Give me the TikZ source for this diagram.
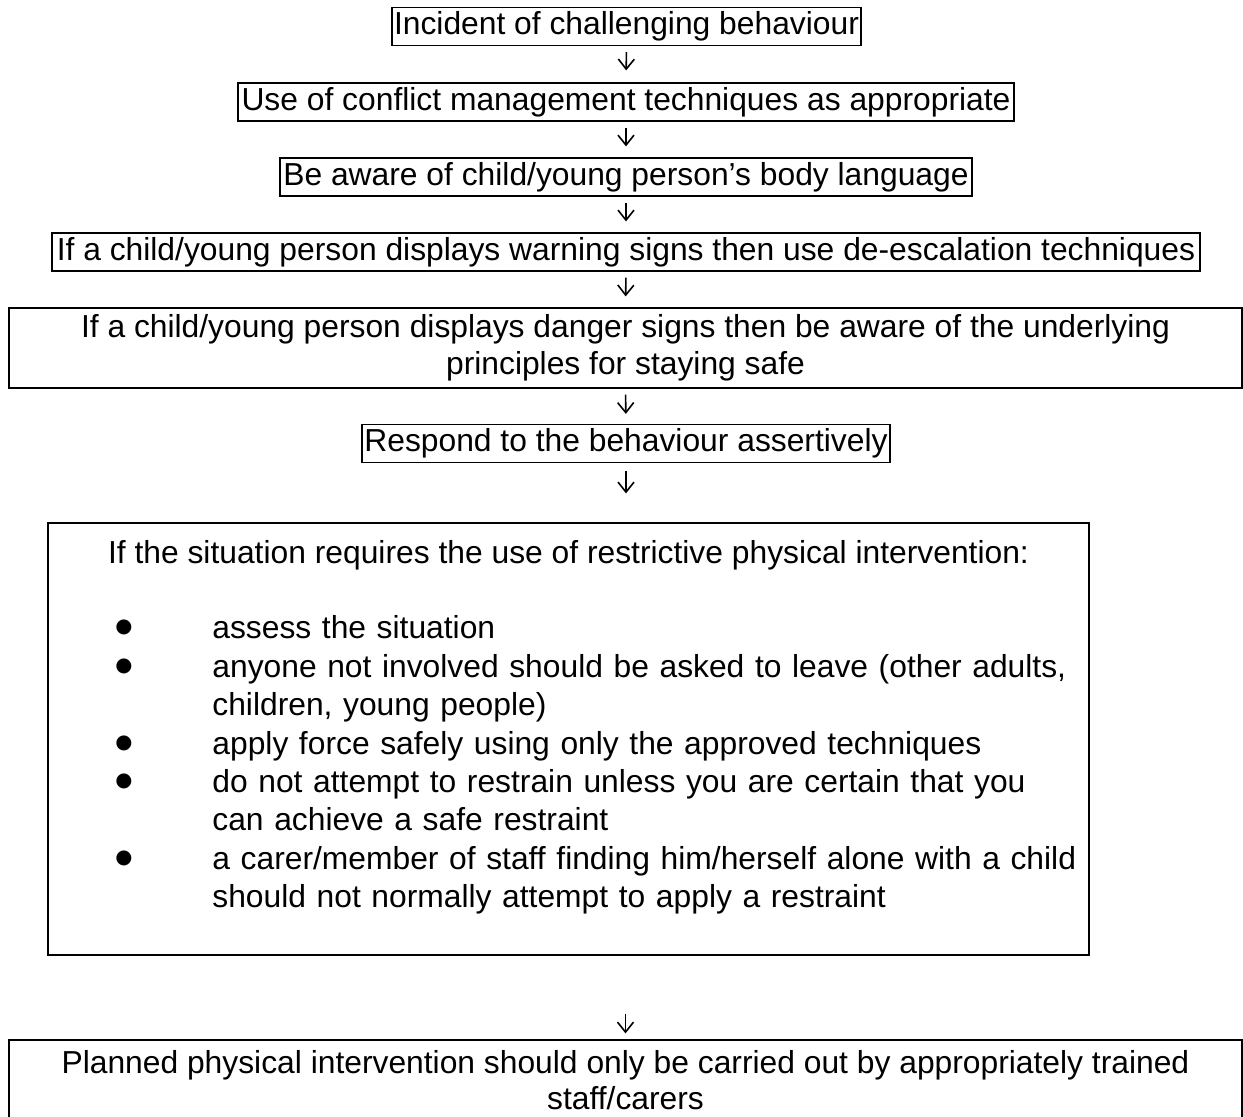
\documentclass[tikz,border=0pt]{standalone}
\usepackage{fontspec}
\setmainfont{Liberation Sans}
\newfontfamily\bulfont{DejaVu Sans}
\usetikzlibrary{arrows.meta}
\tikzset{
	box/.style={draw,line width=0.6pt,inner sep=0pt,font=\fontsize{15.9}{18.3}\selectfont},
	onebox/.style={box,minimum height=19pt,text height=11.6pt,text depth=3.3pt},
	twobox/.style={box,minimum height=40pt,align=center},
	flow/.style={line width=0.8pt,-{Straight Barb[length=5pt,width=8pt]}},
	txt/.style={inner sep=0pt,font=\fontsize{15.9}{19.2}\selectfont}
}
\newcommand\rpibreak{\hfil\break}
\newcommand\rpiitem[1]{\noindent\hangindent=48.5pt\hangafter=1\makebox[48.5pt][l]{\bulfont\fontsize{9.8}{19.2}\selectfont\raisebox{3pt}{●}}#1\par}
\begin{document}
\begin{tikzpicture}[x=0.5pt,y=-0.5pt]
	\useasboundingbox[fill=white](0,0) rectangle (1243,1117);
	\node[onebox,minimum width=234.5pt](inc) at (626.5,26.5){Incident of challenging behaviour};
	\node[onebox,minimum width=388pt](cmt) at (626,102){Use of conflict management techniques as appropriate};
	\node[onebox,minimum width=346pt](body) at (626,177){Be aware of child/young person’s body language};
	\node[onebox,minimum width=574pt](warn) at (626,252){If a child/young person displays warning signs then use de-escalation techniques};
	\node[twobox,minimum width=616.5pt](dang) at (625.5,348){If a child/young person displays danger signs then be aware of the underlying\\principles for staying safe};
	\node[onebox,minimum width=264pt](resp) at (626,443.5){Respond to the behaviour assertively};
	\node[box,minimum width=520.5pt,minimum height=216pt](rpi) at (568.5,739){};
	\node[twobox,minimum width=616.5pt](plan) at (625.5,1080){Planned physical intervention should only be carried out by appropriately trained\\staff/carers};
	\node[txt,anchor=base](rpihead) at ([yshift=-20.5pt]rpi.north){If the situation requires the use of restrictive physical intervention:};
	\node[txt,anchor=base west,text width=505pt,align=left](rpilist) at (115,639){%
		\rpiitem{assess the situation}%
		\rpiitem{anyone not involved should be asked to leave (other adults,\rpibreak children, young people)}%
		\rpiitem{apply force safely using only the approved techniques}%
		\rpiitem{do not attempt to restrain unless you are certain that you\rpibreak can achieve a safe restraint}%
		\rpiitem{a carer/member of staff finding him/herself alone with a child\rpibreak should not normally attempt to apply a restraint}};
	\draw[flow,shorten <=3pt,shorten >=6pt](inc.south) to (cmt.north);
	\draw[flow,shorten <=3pt,shorten >=5.5pt](cmt.south) to (body.north);
	\draw[flow,shorten <=3pt,shorten >=5.5pt](body.south) to (warn.north);
	\draw[flow,shorten <=3pt,shorten >=5.5pt](warn.south) to (dang.north);
	\draw[flow,shorten <=3pt,shorten >=5pt](dang.south) to (resp.north);
	\draw[flow,shorten <=4pt,shorten >=14.5pt](resp.south) to (rpi.north-|resp.south);
	\draw[flow,shorten <=29pt,shorten >=3pt](rpi.south-|plan.north) to (plan.north);
\end{tikzpicture}
\end{document}
